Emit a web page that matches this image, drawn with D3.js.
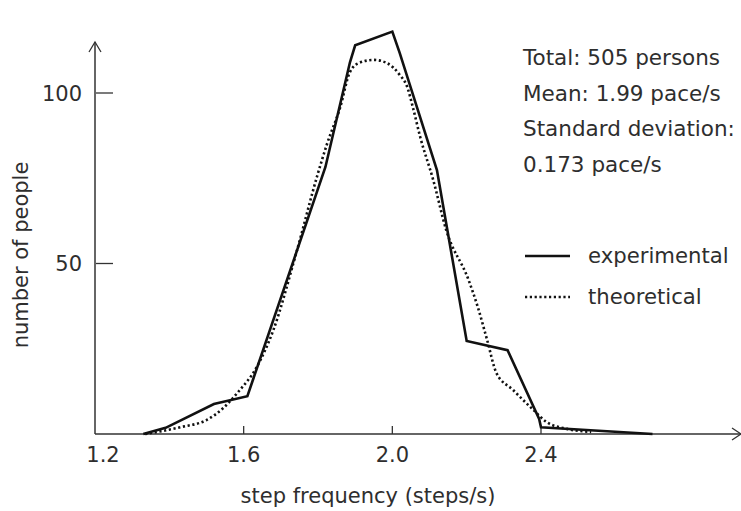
<!DOCTYPE html>
<html>
<head>
<meta charset="utf-8">
<script src="https://cdn.jsdelivr.net/npm/d3@7"></script>
<style>
  body { margin: 0; background: #fff; }
  text { font-family: "DejaVu Sans", Verdana, sans-serif; fill: #2e2e2e; }
</style>
</head>
<body>
<svg width="741" height="511"></svg>
<script>
// experimental frequency polygon (step frequency, number of people)
const expFreq  = [1.33, 1.39, 1.52, 1.61, 1.82, 1.886, 1.90, 2.00, 2.02, 2.12, 2.20, 2.31, 2.395, 2.40, 2.70];
const expCount = [0, 1.8, 8.8, 11.1, 78.3, 109, 114, 118, 111.7, 77.4, 27.3, 24.6, 4.4, 2, 0];

// theoretical curve
const thFreq  = [1.335, 1.43, 1.50, 1.545, 1.585, 1.635, 1.68, 1.74, 1.80, 1.825, 1.86, 1.885, 1.91, 1.95, 1.985,
                 2.02, 2.04, 2.055, 2.075, 2.11, 2.145, 2.205, 2.23, 2.255, 2.28, 2.325, 2.38, 2.415, 2.47, 2.535];
const thCount = [0, 2, 4.1, 7.6, 12.3, 19.6, 30.5, 52.5, 76.5, 85.3, 95.9, 105.9, 108.8, 109.7, 108.8,
                 105.3, 101.8, 95.9, 87.1, 74.5, 59.8, 45.2, 37.2, 27.6, 17.9, 12.9, 7, 3.5, 1.5, 0.6];

const xTicks = [1.2, 1.6, 2.0, 2.4];
const yTicks = [50, 100];
const statLines = ['Total: 505 persons', 'Mean: 1.99 pace/s', 'Standard deviation:', '0.173 pace/s'];
const legendLabels = ['experimental', 'theoretical'];

const svg = d3.select('svg');
const x = d3.scaleLinear().domain([1.2, 2.4]).range([95, 541]);
const y = d3.scaleLinear().domain([0, 100]).range([434, 93]);

const axisColor = '#333';

// axes lines with open arrowheads
svg.append('line').attr('x1', 95).attr('x2', 95).attr('y1', 42).attr('y2', y(0))
    .attr('stroke', axisColor).attr('stroke-width', 1.5);
svg.append('path').attr('d', 'M89,52 L95,42 L101,52').attr('fill', 'none')
    .attr('stroke', axisColor).attr('stroke-width', 1.3);
svg.append('line').attr('x1', 95).attr('x2', 741).attr('y1', y(0)).attr('y2', y(0))
    .attr('stroke', axisColor).attr('stroke-width', 1.5);
svg.append('path').attr('d', `M732,${y(0) - 6} L741,${y(0)} L732,${y(0) + 6}`).attr('fill', 'none')
    .attr('stroke', axisColor).attr('stroke-width', 1.3);

// x ticks
xTicks.forEach((t, i) => {
    if (i > 0) {
        svg.append('line').attr('x1', x(t)).attr('x2', x(t)).attr('y1', y(0)).attr('y2', y(0) - 8)
            .attr('stroke', axisColor).attr('stroke-width', 1.3);
    }
    svg.append('text').attr('x', x(t) + (i === 0 ? 8 : 0)).attr('y', 462)
        .attr('text-anchor', 'middle').attr('font-size', 21).text(d3.format('.1f')(t));
});

// y ticks
yTicks.forEach(t => {
    svg.append('line').attr('x1', 96).attr('x2', 113).attr('y1', y(t)).attr('y2', y(t))
        .attr('stroke', axisColor).attr('stroke-width', 1.3);
    svg.append('text').attr('x', 82).attr('y', y(t) + 7.5)
        .attr('text-anchor', 'end').attr('font-size', 21).text(t);
});

// axis titles
svg.append('text').attr('x', 368).attr('y', 503).attr('text-anchor', 'middle')
    .attr('font-size', 21).text('step frequency (steps/s)');
svg.append('text').attr('transform', 'translate(28,255) rotate(-90)').attr('text-anchor', 'middle')
    .attr('font-size', 21).text('number of people');

// curves
const line = d3.line().x(d => x(d[0])).y(d => y(d[1]));
const thLine = d3.line().x(d => x(d[0])).y(d => y(d[1])).curve(d3.curveMonotoneX);

svg.append('path').datum(d3.zip(thFreq, thCount)).attr('d', thLine)
    .attr('fill', 'none').attr('stroke', '#111').attr('stroke-width', 2.6)
    .attr('stroke-dasharray', '2.2,2.6');
svg.append('path').datum(d3.zip(expFreq, expCount)).attr('d', line)
    .attr('fill', 'none').attr('stroke', '#111').attr('stroke-width', 2.6)
    .attr('stroke-linejoin', 'miter');

// stats text
statLines.forEach((s, i) => {
    svg.append('text').attr('x', 523).attr('y', 65 + i * 35.7).attr('font-size', 21.5).text(s);
});

// legend
legendLabels.forEach((s, i) => {
    const ly = 256 + i * 41;
    svg.append('line').attr('x1', 525).attr('x2', 570).attr('y1', ly).attr('y2', ly)
        .attr('stroke', '#111').attr('stroke-width', 2.6)
        .attr('stroke-dasharray', i === 1 ? '2.2,2.6' : null);
    svg.append('text').attr('x', 588).attr('y', ly + 7).attr('font-size', 21.2).text(s);
});
</script>
</body>
</html>
